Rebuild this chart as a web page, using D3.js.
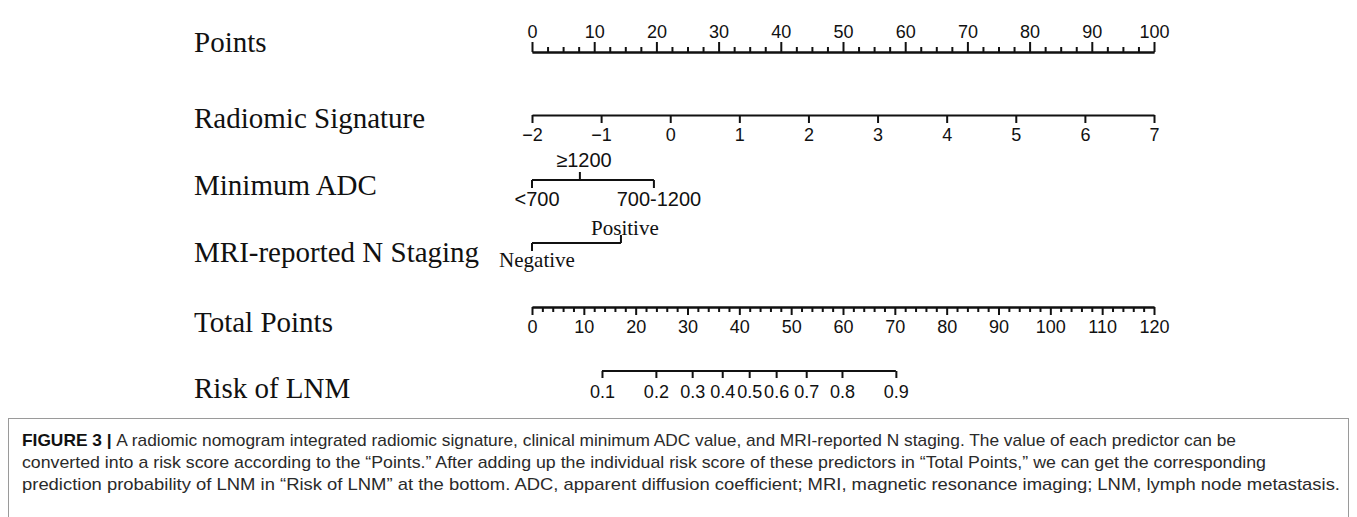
<!DOCTYPE html>
<html>

<head>
    <title>Radiomic nomogram</title>
    <script src="https://cdn.jsdelivr.net/npm/d3@7"></script>
    <style>
        body { margin: 0; background: #fff; }
        .row-label { font-family: "Liberation Serif", "Times New Roman", serif; font-size: 29px; fill: #111; }
        .tick text { font-family: "Liberation Sans", Arial, sans-serif; font-size: 18px; fill: #111; }
        .cat-sans { font-family: "Liberation Sans", Arial, sans-serif; font-size: 20px; fill: #111; }
        .cat-serif { font-family: "Liberation Serif", "Times New Roman", serif; font-size: 21px; fill: #111; }
        .caption { font-family: "Liberation Sans", Arial, sans-serif; font-size: 17px; fill: #2a2a2a; }
    </style>
</head>

<body>
    <div id="chart"></div>
    <script>
        // row names of the nomogram
        const rowLabels = ["Points", "Radiomic Signature", "Minimum ADC", "MRI-reported N Staging", "Total Points", "Risk of LNM"];

        // points scale
        const pointsMajor = [0, 10, 20, 30, 40, 50, 60, 70, 80, 90, 100];
        const pointsMinorStep = 2.5;

        // radiomic signature ticks (-2 .. 7 spans 0 .. 100 points)
        const radiomicTicks = [-2, -1, 0, 1, 2, 3, 4, 5, 6, 7];
        const radiomicPoints = [0, 100];

        // minimum ADC categories and their points
        const adcLevels = ["<700", "≥1200", "700-1200"];
        const adcPoints = [0, 7.7, 19.6];

        // MRI-reported N staging
        const mriLevels = ["Negative", "Positive"];
        const mriPoints = [0, 14.3];

        // total points
        const totalMajor = [0, 10, 20, 30, 40, 50, 60, 70, 80, 90, 100, 110, 120];
        const totalMinorStep = 2;

        // risk of LNM and total points where each risk sits
        const riskLabels = ["0.1", "0.2", "0.3", "0.4", "0.5", "0.6", "0.7", "0.8", "0.9"];
        const riskTotal = [13.5, 23.9, 30.9, 36.7, 41.9, 47.1, 52.9, 59.8, 70.2];

        const captionLead = "FIGURE 3 | ";
        const captionLines = [
            "A radiomic nomogram integrated radiomic signature, clinical minimum ADC value, and MRI-reported N staging. The value of each predictor can be",
            "converted into a risk score according to the \u201cPoints.\u201d After adding up the individual risk score of these predictors in \u201cTotal Points,\u201d we can get the corresponding",
            "prediction probability of LNM in \u201cRisk of LNM\u201d at the bottom. ADC, apparent diffusion coefficient; MRI, magnetic resonance imaging; LNM, lymph node metastasis."
        ];

        const W = 1357, H = 517;
        const x0 = 532, x1 = 1154;
        const rowY = [52, 115, 180, 243, 307, 371];       // axis line of each row
        const labelY = [52, 128, 195, 262, 332, 398];     // baseline of row names
        const captionRight = [1236, 1266, 1340];         // right end of each caption line

        const svg = d3.select("#chart").append("svg")
            .attr("width", W).attr("height", H);

        // scales
        const xPts = d3.scaleLinear().domain([0, 100]).range([x0, x1]);
        const xTot = d3.scaleLinear().domain([0, 120]).range([x0, x1]);

        // row names
        svg.selectAll(".row-label")
            .data(rowLabels)
            .enter()
            .append("text")
            .attr("class", "row-label")
            .attr("x", 194)
            .attr("y", (d, i) => labelY[i])
            .text(d => d);

        function styleAxis(g) {
            g.select(".domain").attr("stroke", "#111").attr("stroke-width", 2);
            g.selectAll(".tick line").attr("stroke", "#111").attr("stroke-width", 2);
        }

        // Points axis
        const ptsMinor = d3.range(0, 100 + 0.01, pointsMinorStep).filter(v => v % 10 !== 0);
        svg.append("g")
            .attr("transform", `translate(0,${rowY[0]})`)
            .call(d3.axisTop(xPts).tickValues(ptsMinor).tickSize(5).tickSizeOuter(0).tickFormat(""))
            .call(styleAxis);
        svg.append("g")
            .attr("transform", `translate(0,${rowY[0]})`)
            .call(d3.axisTop(xPts).tickValues(pointsMajor).tickSize(10).tickSizeOuter(0).tickPadding(4))
            .call(styleAxis);

        // Radiomic signature
        const xRad = d3.scaleLinear()
            .domain([radiomicTicks[0], radiomicTicks[radiomicTicks.length - 1]])
            .range([xPts(radiomicPoints[0]), xPts(radiomicPoints[1])]);
        svg.append("g")
            .attr("transform", `translate(0,${rowY[1]})`)
            .call(d3.axisBottom(xRad).tickValues(radiomicTicks).tickSize(8).tickSizeOuter(0).tickPadding(5).tickFormat(d3.format("d")))
            .call(styleAxis);

        // categorical rows
        function catRow(levels, pts, y, cls, upIndex, belowBase, aboveBase) {
            const g = svg.append("g");
            g.append("line")
                .attr("x1", xPts(d3.min(pts))).attr("x2", xPts(d3.max(pts)))
                .attr("y1", y).attr("y2", y)
                .attr("stroke", "#111").attr("stroke-width", 2);
            const t = g.selectAll(".cat")
                .data(levels)
                .enter();
            t.append("line")
                .attr("x1", (d, i) => xPts(pts[i])).attr("x2", (d, i) => xPts(pts[i]))
                .attr("y1", y)
                .attr("y2", (d, i) => upIndex.includes(i) ? y - 8 : y + 8)
                .attr("stroke", "#111").attr("stroke-width", 2);
            t.append("text")
                .attr("class", cls)
                .attr("text-anchor", "middle")
                .attr("x", (d, i) => xPts(pts[i]) + (upIndex.includes(i) ? 4 : 5))
                .attr("y", (d, i) => upIndex.includes(i) ? y - aboveBase : y + belowBase)
                .text(d => d);
        }
        catRow(adcLevels, adcPoints, rowY[2], "cat-sans", [1], 26, 13);
        catRow(mriLevels, mriPoints, rowY[3], "cat-serif", [1], 24, 8);

        // Total points axis
        const totMinor = d3.range(0, 120 + 0.01, totalMinorStep).filter(v => v % 10 !== 0);
        svg.append("g")
            .attr("transform", `translate(0,${rowY[4]})`)
            .call(d3.axisBottom(xTot).tickValues(totMinor).tickSize(5).tickSizeOuter(0).tickFormat(""))
            .call(styleAxis);
        svg.append("g")
            .attr("transform", `translate(0,${rowY[4]})`)
            .call(d3.axisBottom(xTot).tickValues(totalMajor).tickSize(8).tickSizeOuter(0).tickPadding(5))
            .call(styleAxis);

        // Risk of LNM
        svg.append("g")
            .attr("transform", `translate(0,${rowY[5]})`)
            .call(d3.axisBottom(xTot).tickValues(riskTotal).tickSize(7).tickSizeOuter(0).tickPadding(7)
                .tickFormat((d, i) => riskLabels[i]))
            .call(g => g.select(".domain").attr("d", `M${xTot(d3.min(riskTotal))},0H${xTot(d3.max(riskTotal))}`))
            .call(styleAxis);

        // caption box
        svg.append("rect")
            .attr("x", 8.5).attr("y", 418.5)
            .attr("width", 1340).attr("height", 120)
            .attr("fill", "none").attr("stroke", "#9a9a9a").attr("stroke-width", 1);

        captionLines.forEach((line, i) => {
            const t = svg.append("text")
                .attr("class", "caption")
                .attr("x", 22)
                .attr("y", 446 + i * 22)
                .attr("textLength", captionRight[i] - 22)
                .attr("lengthAdjust", "spacingAndGlyphs");
            if (i === 0) {
                t.append("tspan").attr("font-weight", "bold").attr("fill", "#111").text(captionLead);
            }
            t.append("tspan").text(line);
        });
    </script>
</body>

</html>
